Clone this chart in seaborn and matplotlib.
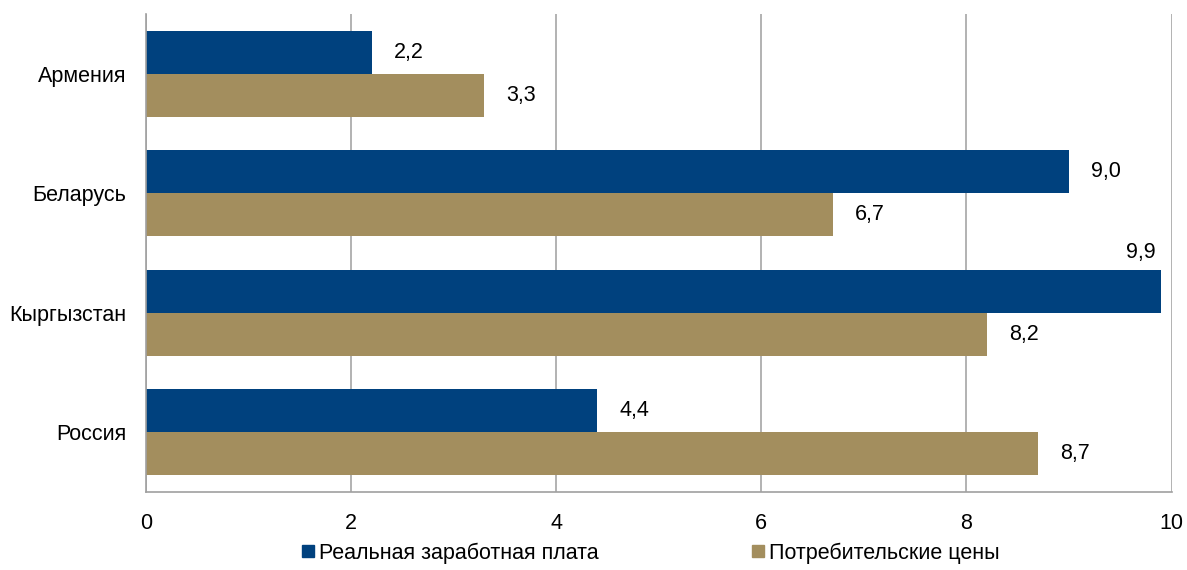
import numpy as np
import pandas as pd
import matplotlib
matplotlib.use('Agg')
import matplotlib.pyplot as plt
from matplotlib.lines import Line2D
import seaborn as sns

countries = ['Армения', 'Беларусь', 'Кыргызстан', 'Россия']
series = ['Реальная заработная плата', 'Потребительские цены']
wages = [2.2, 9.0, 9.9, 4.4]
prices = [3.3, 6.7, 8.2, 8.7]
colors = ['#00417E', '#A38E5E']

df = pd.DataFrame({
    'country': countries * 2,
    'series': [series[0]] * 4 + [series[1]] * 4,
    'value': wages + prices,
})

sns.set_style('white', {'text.color': 'black', 'xtick.color': 'black',
                        'ytick.color': 'black'})
plt.rcParams['font.family'] = ['Liberation Sans', 'DejaVu Sans']
fs = 15.5

fig = plt.figure(figsize=(11.87, 5.70), dpi=100)
ax = fig.add_axes([0.123, 0.137, 0.864, 0.838])

sns.barplot(data=df, y='country', x='value', hue='series', orient='h',
            palette=colors, width=0.72, gap=0, saturation=1, ax=ax,
            legend=False, errorbar=None, linewidth=0, edgecolor='none')

ax.set_xlim(0, 10)
ax.set_ylim(3.5, -0.5)
ax.set_xticks(np.arange(0, 11, 2))
ax.set_xticklabels([str(v) for v in range(0, 11, 2)], fontsize=fs)
ax.set_yticks(range(len(countries)))
ax.set_yticklabels(countries, fontsize=fs)
ax.set_yticks(np.arange(-0.5, 4, 1), minor=True)
ax.tick_params(axis='y', which='major', length=0, pad=14, labelcolor='black')
ax.tick_params(axis='y', which='minor', length=5, color='#A0A0A0', direction='out')
ax.tick_params(axis='x', length=6, color='#A0A0A0', pad=9, labelcolor='black')
ax.set_xlabel('')
ax.set_ylabel('')

ax.grid(axis='x', color='#A6A6A6', linewidth=1.2)
ax.set_axisbelow(True)
for s in ['top', 'right']:
    ax.spines[s].set_visible(False)
for s in ['left', 'bottom']:
    ax.spines[s].set_color('#A0A0A0')
    ax.spines[s].set_linewidth(1.2)

# value labels with comma decimal
for cont in ax.containers:
    for bar in cont:
        v = bar.get_width()
        txt = f'{v:.1f}'.replace('.', ',')
        yc = bar.get_y() + bar.get_height() / 2
        if v > 9.5:
            ax.annotate(txt, (v, bar.get_y()), xytext=(-15, 5),
                        textcoords='offset points', ha='center', va='bottom',
                        fontsize=fs, color='black')
        else:
            ax.annotate(txt, (v, yc), xytext=(16, 0),
                        textcoords='offset points', ha='left', va='center',
                        fontsize=fs, color='black')

handles = [Line2D([], [], marker='s', linestyle='', color=c, markersize=9)
           for c in colors]
fig.legend(handles, series, loc='center', bbox_to_anchor=(0.547, 0.03),
           ncol=2, frameon=False, fontsize=fs, handletextpad=0.1,
           columnspacing=7, handlelength=0.8, labelcolor='black')

fig.savefig('out.png', dpi=100)
